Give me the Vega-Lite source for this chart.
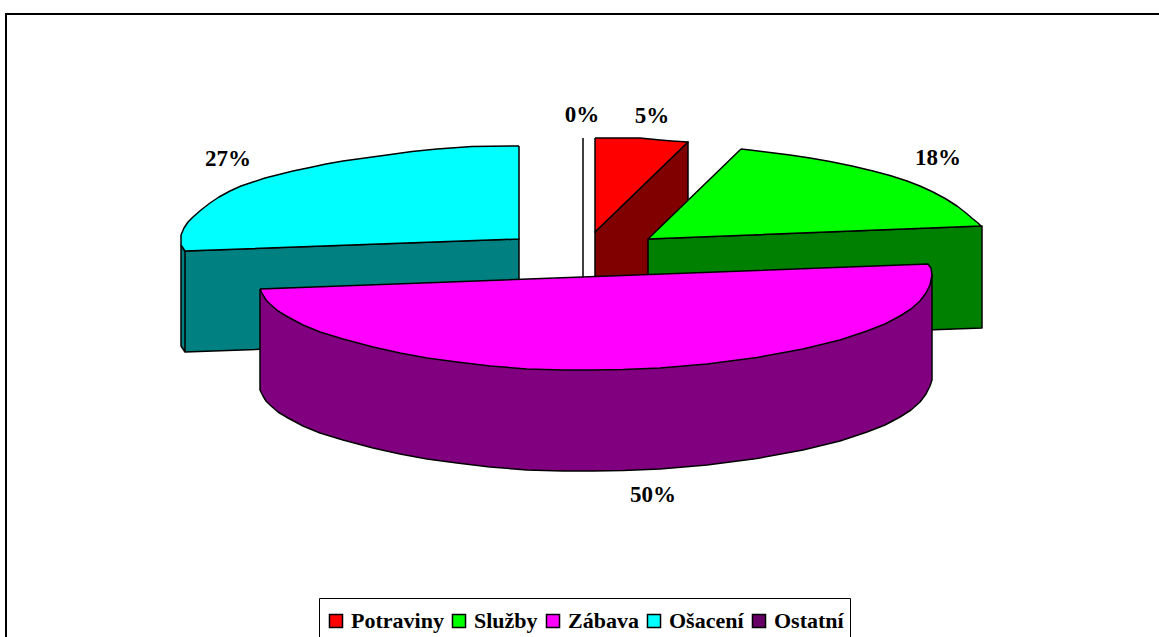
{
"$schema":"https://vega.github.io/schema/vega-lite/v6.json",
"width":1159,"height":637,"padding":0,"autosize":{"type":"none"},
"background":"white",
"view":{"stroke":null},
"config":{"font":"Liberation Serif"},
"datasets":{
"frame":[{"x":1159,"y":14,"o":1},{"x":6,"y":14,"o":2},{"x":6,"y":637,"o":3}],
"shapes":[
{"part":"Ostatní","o":1,"x":583,"y":138},{"part":"Ostatní","o":2,"x":583,"y":278},
{"part":"Ošacení bok","o":1,"x":181,"y":245},{"part":"Ošacení bok","o":2,"x":185,"y":251},{"part":"Ošacení bok","o":3,"x":185,"y":352},{"part":"Ošacení bok","o":4,"x":185,"y":251},{"part":"Ošacení bok","o":5,"x":519,"y":239},{"part":"Ošacení bok","o":6,"x":519,"y":340},{"part":"Ošacení bok","o":7,"x":185,"y":352},{"part":"Ošacení bok","o":8,"x":181,"y":346},{"part":"Ošacení bok","o":9,"x":181,"y":245},
{"part":"Ošacení","o":1,"x":519,"y":146},{"part":"Ošacení","o":2,"x":472,"y":146.5},{"part":"Ošacení","o":3,"x":437,"y":149},{"part":"Ošacení","o":4,"x":412,"y":151.5},{"part":"Ošacení","o":5,"x":387,"y":155},{"part":"Ošacení","o":6,"x":365,"y":158},{"part":"Ošacení","o":7,"x":343,"y":161},{"part":"Ošacení","o":8,"x":326,"y":164},{"part":"Ošacení","o":9,"x":310,"y":167.5},{"part":"Ošacení","o":10,"x":293,"y":171},{"part":"Ošacení","o":11,"x":277,"y":175},{"part":"Ošacení","o":12,"x":265,"y":178},{"part":"Ošacení","o":13,"x":253,"y":182},{"part":"Ošacení","o":14,"x":241,"y":186},{"part":"Ošacení","o":15,"x":230,"y":191},{"part":"Ošacení","o":16,"x":219,"y":197},{"part":"Ošacení","o":17,"x":210,"y":203},{"part":"Ošacení","o":18,"x":201,"y":210},{"part":"Ošacení","o":19,"x":193,"y":217},{"part":"Ošacení","o":20,"x":188,"y":222},{"part":"Ošacení","o":21,"x":184,"y":228},{"part":"Ošacení","o":22,"x":181,"y":235},{"part":"Ošacení","o":23,"x":181,"y":245},{"part":"Ošacení","o":24,"x":185,"y":251},{"part":"Ošacení","o":25,"x":519,"y":239},{"part":"Ošacení","o":26,"x":519,"y":146},
{"part":"Potraviny bok","o":1,"x":595,"y":232},{"part":"Potraviny bok","o":2,"x":688,"y":142},{"part":"Potraviny bok","o":3,"x":688,"y":275},{"part":"Potraviny bok","o":4,"x":595,"y":279},{"part":"Potraviny bok","o":5,"x":595,"y":232},
{"part":"Potraviny","o":1,"x":595,"y":138},{"part":"Potraviny","o":2,"x":640,"y":138},{"part":"Potraviny","o":3,"x":650,"y":139},{"part":"Potraviny","o":4,"x":660,"y":140},{"part":"Potraviny","o":5,"x":672,"y":141},{"part":"Potraviny","o":6,"x":688,"y":142},{"part":"Potraviny","o":7,"x":595,"y":232},{"part":"Potraviny","o":8,"x":595,"y":138},
{"part":"Služby bok","o":1,"x":648,"y":239},{"part":"Služby bok","o":2,"x":982,"y":226},{"part":"Služby bok","o":3,"x":982,"y":328},{"part":"Služby bok","o":4,"x":648,"y":340},{"part":"Služby bok","o":5,"x":648,"y":239},
{"part":"Služby","o":1,"x":741,"y":149},{"part":"Služby","o":2,"x":750,"y":150},{"part":"Služby","o":3,"x":770,"y":152.5},{"part":"Služby","o":4,"x":790,"y":155},{"part":"Služby","o":5,"x":810,"y":158},{"part":"Služby","o":6,"x":830,"y":161.5},{"part":"Služby","o":7,"x":852,"y":166},{"part":"Služby","o":8,"x":873,"y":171},{"part":"Služby","o":9,"x":890,"y":175.5},{"part":"Služby","o":10,"x":907,"y":181},{"part":"Služby","o":11,"x":920,"y":186},{"part":"Služby","o":12,"x":933,"y":192},{"part":"Služby","o":13,"x":946,"y":199},{"part":"Služby","o":14,"x":957,"y":206},{"part":"Služby","o":15,"x":966,"y":213},{"part":"Služby","o":16,"x":973,"y":219},{"part":"Služby","o":17,"x":978,"y":223},{"part":"Služby","o":18,"x":981,"y":226},{"part":"Služby","o":19,"x":648,"y":239},{"part":"Služby","o":20,"x":741,"y":149},
{"part":"Zábava bok","o":1,"x":260,"y":289},{"part":"Zábava bok","o":2,"x":932,"y":275},{"part":"Zábava bok","o":3,"x":932,"y":380},{"part":"Zábava bok","o":4,"x":930,"y":386},{"part":"Zábava bok","o":5,"x":926,"y":394},{"part":"Zábava bok","o":6,"x":920,"y":402},{"part":"Zábava bok","o":7,"x":911,"y":410},{"part":"Zábava bok","o":8,"x":900,"y":417},{"part":"Zábava bok","o":9,"x":885,"y":425},{"part":"Zábava bok","o":10,"x":867,"y":432},{"part":"Zábava bok","o":11,"x":840,"y":441},{"part":"Zábava bok","o":12,"x":803,"y":450},{"part":"Zábava bok","o":13,"x":757,"y":458.5},{"part":"Zábava bok","o":14,"x":707,"y":465},{"part":"Zábava bok","o":15,"x":660,"y":469},{"part":"Zábava bok","o":16,"x":623,"y":470.5},{"part":"Zábava bok","o":17,"x":593,"y":471},{"part":"Zábava bok","o":18,"x":563,"y":471},{"part":"Zábava bok","o":19,"x":527,"y":470},{"part":"Zábava bok","o":20,"x":490,"y":467},{"part":"Zábava bok","o":21,"x":457,"y":463},{"part":"Zábava bok","o":22,"x":427,"y":459},{"part":"Zábava bok","o":23,"x":400,"y":454},{"part":"Zábava bok","o":24,"x":373,"y":448},{"part":"Zábava bok","o":25,"x":343,"y":440},{"part":"Zábava bok","o":26,"x":320,"y":433},{"part":"Zábava bok","o":27,"x":303,"y":426},{"part":"Zábava bok","o":28,"x":288,"y":418},{"part":"Zábava bok","o":29,"x":278,"y":412},{"part":"Zábava bok","o":30,"x":270,"y":405},{"part":"Zábava bok","o":31,"x":266,"y":401},{"part":"Zábava bok","o":32,"x":263,"y":396},{"part":"Zábava bok","o":33,"x":260,"y":390},{"part":"Zábava bok","o":34,"x":260,"y":289},
{"part":"Zábava","o":1,"x":260,"y":289},{"part":"Zábava","o":2,"x":263,"y":295},{"part":"Zábava","o":3,"x":266,"y":300},{"part":"Zábava","o":4,"x":270,"y":304},{"part":"Zábava","o":5,"x":278,"y":311},{"part":"Zábava","o":6,"x":288,"y":317},{"part":"Zábava","o":7,"x":303,"y":325},{"part":"Zábava","o":8,"x":320,"y":332},{"part":"Zábava","o":9,"x":343,"y":339},{"part":"Zábava","o":10,"x":373,"y":347},{"part":"Zábava","o":11,"x":400,"y":353},{"part":"Zábava","o":12,"x":427,"y":358},{"part":"Zábava","o":13,"x":457,"y":362},{"part":"Zábava","o":14,"x":490,"y":366},{"part":"Zábava","o":15,"x":527,"y":369},{"part":"Zábava","o":16,"x":563,"y":370},{"part":"Zábava","o":17,"x":593,"y":370},{"part":"Zábava","o":18,"x":623,"y":369.5},{"part":"Zábava","o":19,"x":660,"y":368},{"part":"Zábava","o":20,"x":707,"y":364},{"part":"Zábava","o":21,"x":757,"y":357.5},{"part":"Zábava","o":22,"x":803,"y":349},{"part":"Zábava","o":23,"x":840,"y":340},{"part":"Zábava","o":24,"x":867,"y":331},{"part":"Zábava","o":25,"x":885,"y":324},{"part":"Zábava","o":26,"x":900,"y":316},{"part":"Zábava","o":27,"x":911,"y":309},{"part":"Zábava","o":28,"x":920,"y":301},{"part":"Zábava","o":29,"x":926,"y":293},{"part":"Zábava","o":30,"x":930,"y":285},{"part":"Zábava","o":31,"x":932,"y":275},{"part":"Zábava","o":32,"x":931,"y":268},{"part":"Zábava","o":33,"x":928,"y":264},{"part":"Zábava","o":34,"x":260,"y":289}
],
"labels":[{"t":"0%","x":582,"y":115},{"t":"5%","x":652,"y":116},{"t":"18%","x":938,"y":158},{"t":"27%","x":228,"y":159},{"t":"50%","x":653,"y":495}]
},
"layer":[
{"data":{"name":"frame"},"mark":{"type":"line","stroke":"black","strokeWidth":2,"clip":true},
 "encoding":{"x":{"field":"x","type":"quantitative","scale":{"domain":[0,1159]},"axis":null},"y":{"field":"y","type":"quantitative","scale":{"domain":[637,0]},"axis":null},"order":{"field":"o"}}},
{"data":{"name":"shapes"},"mark":{"type":"line","stroke":"black","strokeWidth":1.5,"filled":true,"strokeJoin":"round"},
 "encoding":{"x":{"field":"x","type":"quantitative","scale":{"domain":[0,1159]},"axis":null},"y":{"field":"y","type":"quantitative","scale":{"domain":[637,0]},"axis":null},"order":{"field":"o"},
 "fill":{"field":"part","type":"nominal","sort":null,
  "scale":{"domain":["Potraviny","Služby","Zábava","Ošacení","Ostatní","Potraviny bok","Služby bok","Zábava bok","Ošacení bok"],"range":["#ff0000","#00ff00","#ff00ff","#00ffff","#660066","#800000","#008000","#800080","#008080"]},
  "legend":{"values":["Potraviny","Služby","Zábava","Ošacení","Ostatní"],"orient":"none","legendX":319,"legendY":598,"direction":"horizontal","columns":5,"title":" ","titleFontSize":1,"titlePadding":5,"strokeColor":"black","fillColor":"white","padding":6,"symbolType":"square","symbolSize":170,"symbolStrokeColor":"black","symbolStrokeWidth":1.5,"labelFont":"Liberation Serif","labelFontWeight":"bold","labelFontSize":22,"labelColor":"black","labelOffset":4,"columnPadding":4,"labelLimit":200}}}},
{"data":{"name":"labels"},"mark":{"type":"text","font":"Liberation Serif","fontWeight":"bold","fontSize":23,"color":"black","baseline":"middle","align":"center"},
 "encoding":{"x":{"field":"x","type":"quantitative","scale":{"domain":[0,1159]},"axis":null},"y":{"field":"y","type":"quantitative","scale":{"domain":[637,0]},"axis":null},"text":{"field":"t","type":"nominal"}}}
]
}
